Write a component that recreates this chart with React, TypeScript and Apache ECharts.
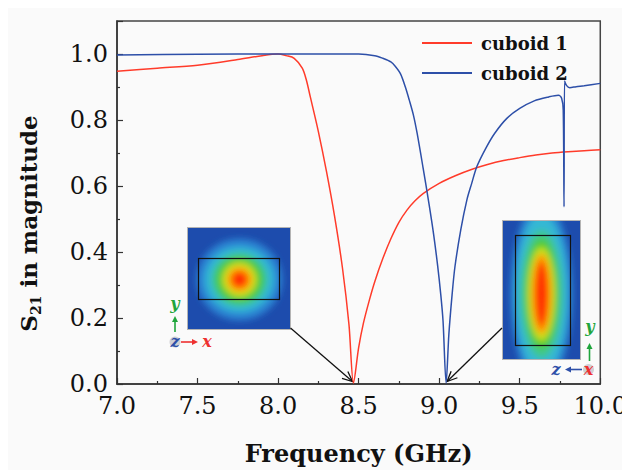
import React, { useEffect, useRef } from "react";
import * as echarts from "echarts";

const FONT = "DejaVu Serif";

// ---- data ----
const cuboid1Freq = [7.0, 7.25, 7.5, 7.75, 7.9, 8.0, 8.05, 8.1, 8.15, 8.175, 8.2, 8.25, 8.3, 8.35, 8.4, 8.44, 8.468, 8.5, 8.53, 8.567, 8.6, 8.65, 8.7, 8.75, 8.8, 8.85, 8.9, 9.0, 9.1, 9.2, 9.3, 9.4, 9.5, 9.6, 9.7, 9.8, 9.9, 10.0];
const cuboid1S21 = [0.948, 0.957, 0.966, 0.983, 0.995, 1.0, 0.995, 0.987, 0.957, 0.922, 0.87, 0.765, 0.645, 0.51, 0.35, 0.18, 0.003, 0.11, 0.185, 0.255, 0.31, 0.38, 0.44, 0.49, 0.527, 0.555, 0.577, 0.608, 0.631, 0.65, 0.665, 0.677, 0.686, 0.694, 0.7, 0.704, 0.707, 0.71];

const cuboid2Freq = [7.0, 7.5, 8.0, 8.5, 8.6, 8.65, 8.7, 8.727, 8.76, 8.79, 8.814, 8.84, 8.863, 8.9, 8.937, 8.965, 8.99, 9.01, 9.024, 9.043, 9.06, 9.08, 9.098, 9.135, 9.172, 9.2, 9.234, 9.29, 9.345, 9.42, 9.5, 9.59, 9.68, 9.74, 9.76, 9.77, 9.775, 9.778, 9.79, 9.81, 9.85, 9.9, 10.0];
const cuboid2S21 = [0.997, 0.999, 1.0, 1.0, 0.995, 0.987, 0.976, 0.963, 0.94, 0.9, 0.861, 0.815, 0.76, 0.655, 0.545, 0.455, 0.36, 0.27, 0.19, 0.003, 0.15, 0.27, 0.356, 0.47, 0.558, 0.605, 0.659, 0.715, 0.76, 0.805, 0.835, 0.858, 0.87, 0.875, 0.866, 0.83, 0.537, 0.918, 0.905, 0.898, 0.901, 0.904, 0.911];

const seriesNames = ["cuboid 1", "cuboid 2"];
const resonanceFreq = [8.468, 9.043];

const RED = "#ff3b2a";
const BLUE = "#2d4fa8";

const heatLeft = `<svg xmlns='http://www.w3.org/2000/svg' width='104' height='103' viewBox='0 0 104 103'>
<defs><filter id='b' x='-50%' y='-50%' width='200%' height='200%'><feGaussianBlur stdDeviation='3.2'/></filter></defs>
<rect width='104' height='103' fill='#1d4cad'/>
<g filter='url(#b)'>
<ellipse cx='52.5' cy='52.5' rx='43' ry='41' fill='#2a82d2'/>
<ellipse cx='52.5' cy='52.5' rx='35' ry='33' fill='#33b6d6'/>
<ellipse cx='52.5' cy='52.5' rx='27.5' ry='26.5' fill='#3cc882'/>
<ellipse cx='52.5' cy='52.5' rx='23' ry='22.5' fill='#4cca34'/>
<ellipse cx='52.5' cy='52.5' rx='17' ry='17' fill='#d4e01c'/>
<ellipse cx='52.5' cy='52.5' rx='12' ry='12' fill='#ff9400'/>
<ellipse cx='52.5' cy='52.5' rx='7.5' ry='7.5' fill='#ff2a00'/>
</g>
<rect x='11.5' y='31.5' width='81' height='41' fill='none' stroke='#111' stroke-width='1.2'/>
<rect x='0.5' y='0.5' width='103' height='102' fill='none' stroke='#b4b4b4' stroke-width='1'/>
</svg>`;

const heatRight = `<svg xmlns='http://www.w3.org/2000/svg' width='79' height='140' viewBox='0 0 79 140'>
<defs><filter id='b' x='-50%' y='-50%' width='200%' height='200%'><feGaussianBlur stdDeviation='3.2'/></filter></defs>
<rect width='79' height='140' fill='#1d4cad'/>
<g filter='url(#b)'>
<ellipse cx='39.5' cy='74' rx='31' ry='92' fill='#2a86d2'/>
<ellipse cx='39.5' cy='74' rx='26' ry='80' fill='#35b8d4'/>
<ellipse cx='39.5' cy='74' rx='21' ry='64' fill='#40c88c'/>
<ellipse cx='39.5' cy='74' rx='17' ry='55' fill='#4ecb32'/>
<ellipse cx='39.5' cy='74' rx='13.5' ry='47' fill='#cce01e'/>
<ellipse cx='39.5' cy='74' rx='10' ry='40' fill='#ff9400'/>
<ellipse cx='39.5' cy='74' rx='6' ry='32' fill='#ff2e00'/>
</g>
<rect x='13.5' y='15.5' width='55' height='110' fill='none' stroke='#111' stroke-width='1.2'/>
<rect x='0.5' y='0.5' width='78' height='139' fill='none' stroke='#b4b4b4' stroke-width='1'/>
</svg>`;

const toUrl = (s: string) => "data:image/svg+xml;charset=utf-8," + encodeURIComponent(s);

function openArrow(x1: number, y1: number, x2: number, y2: number, color: string, lw: number, hl: number, hw: number) {
  const dx = x2 - x1, dy = y2 - y1, L = Math.hypot(dx, dy), ux = dx / L, uy = dy / L;
  const bx = x2 - ux * hl, by = y2 - uy * hl, px = -uy * hw, py = ux * hw;
  return [
    { type: "line", silent: true, shape: { x1, y1, x2, y2 }, style: { stroke: color, lineWidth: lw } },
    { type: "polyline", silent: true, shape: { points: [[bx + px, by + py], [x2, y2], [bx - px, by - py]] }, style: { stroke: color, lineWidth: lw, fill: null } },
  ];
}

function solidArrow(x1: number, y1: number, x2: number, y2: number, color: string, lw: number, hl: number, hw: number) {
  const dx = x2 - x1, dy = y2 - y1, L = Math.hypot(dx, dy), ux = dx / L, uy = dy / L;
  const bx = x2 - ux * hl, by = y2 - uy * hl, px = -uy * hw, py = ux * hw;
  return [
    { type: "line", silent: true, shape: { x1, y1, x2: bx, y2: by }, style: { stroke: color, lineWidth: lw } },
    { type: "polygon", silent: true, shape: { points: [[bx + px, by + py], [x2, y2], [bx - px, by - py]] }, style: { fill: color } },
  ];
}

function letter(t: string, x: number, y: number, color: string) {
  return {
    type: "text", silent: true, x, y,
    style: { text: t, fill: color, fontFamily: FONT, fontSize: 16, fontStyle: "italic", fontWeight: "bold", align: "center", verticalAlign: "middle" },
  };
}

export default function App() {
  const ref = useRef<HTMLDivElement>(null);
  useEffect(() => {
    const chart = echarts.init(ref.current!, null, { renderer: "svg" });
    const tickLine = { color: "#333", width: 1.2 };
    chart.setOption({
      animation: false,
      backgroundColor: "#fafafa",
      textStyle: { fontFamily: FONT },
      grid: { left: 109, right: 25, top: 13, bottom: 86, show: true, borderColor: "#444", borderWidth: 1.5, backgroundColor: "transparent" },
      legend: {
        orient: "vertical", left: 409, top: 21, itemGap: 12, itemWidth: 50, itemHeight: 2, icon: "rect",
        data: seriesNames,
        textStyle: { fontFamily: FONT, fontSize: 18, fontWeight: "bold", color: "#111", padding: [0, 0, 0, 4] },
      },
      xAxis: {
        type: "value", min: 7, max: 10, interval: 0.5,
        name: "Frequency (GHz)", nameLocation: "middle", nameGap: 57,
        nameTextStyle: { fontFamily: FONT, fontSize: 24, fontWeight: "bold", color: "#111" },
        axisLine: { lineStyle: { color: "#333", width: 1.5 } },
        axisTick: { inside: true, length: 6, lineStyle: tickLine },
        minorTick: { show: true, splitNumber: 2, length: 3, lineStyle: tickLine },
        axisLabel: { formatter: (v: number) => v.toFixed(1), fontFamily: FONT, fontSize: 24, color: "#111", margin: 10 },
        splitLine: { show: false },
      },
      yAxis: {
        type: "value", min: 0, max: 1.1, interval: 0.2,
        axisLine: { show: true, lineStyle: { color: "#333", width: 1.5 } },
        axisTick: { inside: true, length: 6, lineStyle: tickLine },
        minorTick: { show: true, splitNumber: 2, length: 3, lineStyle: tickLine },
        axisLabel: { formatter: (v: number) => (v > 1.05 ? "" : v.toFixed(1)), fontFamily: FONT, fontSize: 24, color: "#111", margin: 9 },
        splitLine: { show: false },
      },
      series: [
        {
          name: seriesNames[0], type: "line", showSymbol: false, symbol: "none", smooth: 0.3,
          data: cuboid1Freq.map((f, i) => [f, cuboid1S21[i]]),
          lineStyle: { color: RED, width: 1.5 }, itemStyle: { color: RED },
        },
        {
          name: seriesNames[1], type: "line", showSymbol: false, symbol: "none", smooth: 0.3,
          data: cuboid2Freq.map((f, i) => [f, cuboid2S21[i]]),
          lineStyle: { color: BLUE, width: 1.5 }, itemStyle: { color: BLUE },
        },
      ],
    });

    const p1 = chart.convertToPixel({ gridIndex: 0 }, [resonanceFreq[0], 0]) as number[];
    const p2 = chart.convertToPixel({ gridIndex: 0 }, [resonanceFreq[1], 0]) as number[];

    const graphics: any[] = [
      { type: "image", silent: true, x: 179, y: 219, style: { image: toUrl(heatLeft), width: 104, height: 103 } },
      { type: "image", silent: true, x: 494, y: 212, style: { image: toUrl(heatRight), width: 79, height: 140 } },
      ...openArrow(282.5, 320, p1[0] - 1, p1[1] - 2.5, "#111", 1.3, 10, 4.5),
      ...openArrow(494, 320, p2[0] + 1, p2[1] - 2.5, "#111", 1.3, 10, 4.5),
      letter("y", 167, 295, "#1fa53c"),
      ...solidArrow(167, 324, 167, 308, "#1fa53c", 1.6, 6, 3),
      { type: "circle", silent: true, shape: { cx: 167, cy: 334, r: 5.5 }, style: { fill: "#cfcfd4" } },
      letter("z", 167, 333, "#2d4fa8"),
      ...solidArrow(173, 334, 190, 334, "#ee3030", 1.6, 6, 3),
      letter("x", 199, 333, "#ee3030"),
      letter("y", 582, 318, "#1fa53c"),
      ...solidArrow(581.5, 353, 581.5, 335, "#1fa53c", 1.6, 6, 3),
      { type: "circle", silent: true, shape: { cx: 580.5, cy: 361.5, r: 5.5 }, style: { fill: "#cfcfd4" } },
      letter("x", 580.5, 361, "#ee3030"),
      ...solidArrow(574, 361.5, 557, 361.5, "#2d4fa8", 1.6, 6, 3),
      letter("z", 548, 361, "#2d4fa8"),
      {
        type: "text", silent: true, x: 20.7, y: 215.5, rotation: Math.PI / 2,
        style: {
          text: "{a|S}{b|21}{a| in magnitude}",
          align: "center", verticalAlign: "middle",
          rich: {
            a: { fontFamily: FONT, fontSize: 23, fontWeight: "bold", fill: "#111", lineHeight: 28 },
            b: { fontFamily: FONT, fontSize: 14, fontWeight: "bold", fill: "#111", lineHeight: 14, verticalAlign: "bottom" },
          },
        },
      },
    ];
    chart.setOption({ graphic: graphics });
    return () => chart.dispose();
  }, []);
  return <div ref={ref} style={{ width: 622, height: 462 }} />;
}
